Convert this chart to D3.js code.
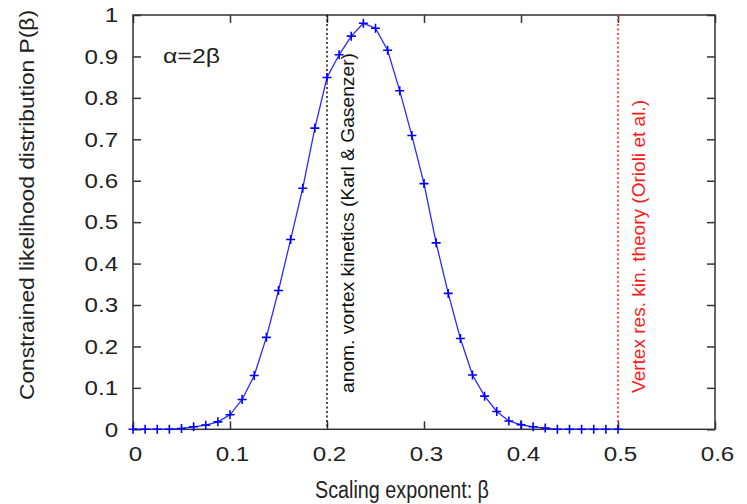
<!DOCTYPE html>
<html>
<head>
<meta charset="utf-8">
<script src="https://cdn.jsdelivr.net/npm/d3@7"></script>
<style>
  body { margin: 0; background: #fff; }
  text { font-family: "Liberation Sans", Arial, sans-serif; fill: #222; }
</style>
</head>
<body>
<div id="root"></div>
<script>
// scaling exponent beta (grid of the computation)
const beta = [0, 0.0125, 0.025, 0.0375, 0.05, 0.0625, 0.075, 0.0875, 0.1, 0.1125,
              0.125, 0.1375, 0.15, 0.1625, 0.175, 0.1875, 0.2, 0.2125, 0.225, 0.2375,
              0.25, 0.2625, 0.275, 0.2875, 0.3, 0.3125, 0.325, 0.3375, 0.35, 0.3625,
              0.375, 0.3875, 0.4, 0.4125, 0.425, 0.4375, 0.45, 0.4625, 0.475, 0.4875, 0.5];
// constrained likelihood P(beta)
const prob = [0, 0, 0, 0, 0.002, 0.006, 0.01, 0.018, 0.035, 0.072,
              0.13, 0.222, 0.335, 0.458, 0.582, 0.727, 0.849, 0.904, 0.949, 0.98,
              0.968, 0.915, 0.817, 0.709, 0.593, 0.45, 0.328, 0.219, 0.131, 0.08,
              0.043, 0.02, 0.011, 0.006, 0.003, 0, 0, 0, 0, 0, 0];
const xTicks = [0, 0.1, 0.2, 0.3, 0.4, 0.5, 0.6];
const yTicks = [0, 0.1, 0.2, 0.3, 0.4, 0.5, 0.6, 0.7, 0.8, 0.9, 1];
const refLines = [
  {beta: 0.2, label: "anom. vortex kinetics (Karl & Gasenzer)", color: "#111", len: 340, tx: 354},
  {beta: 0.5, label: "Vertex res. kin. theory (Orioli et al.)", color: "#ff1a1a", len: 293, tx: 645}
];

const width = 747, height = 504;
const plotL = 133, plotR = 715, plotT = 15, plotB = 429.3;

const x = d3.scaleLinear().domain([0, 0.6]).range([plotL, plotR]);
const y = d3.scaleLinear().domain([0, 1]).range([plotB, plotT]);

const svg = d3.select("#root")
  .append("svg")
    .attr("width", width)
    .attr("height", height);

// axes with inward ticks on all four sides
const noDomain = g => g.select(".domain").remove();

svg.append("g")
    .attr("transform", `translate(0, ${plotB})`)
    .call(d3.axisBottom(x).tickValues(xTicks).tickSize(-8).tickPadding(17).tickFormat(d => d))
    .call(noDomain)
    .call(g => g.selectAll("text").style("font-size", "21px").attr("transform", "translate(2,0) scale(1.15,1)"));

svg.append("g")
    .attr("transform", `translate(0, ${plotT})`)
    .call(d3.axisTop(x).tickValues(xTicks).tickSize(-8).tickFormat(""))
    .call(noDomain);

svg.append("g")
    .attr("transform", `translate(${plotL}, 0)`)
    .call(d3.axisLeft(y).tickValues(yTicks).tickSize(-8).tickPadding(13).tickFormat(d => d))
    .call(noDomain)
    .call(g => g.selectAll("text").style("font-size", "21px").attr("transform", "scale(1.15,1)"));

svg.append("g")
    .attr("transform", `translate(${plotR}, 0)`)
    .call(d3.axisRight(y).tickValues(yTicks).tickSize(-8).tickFormat(""))
    .call(noDomain);

svg.selectAll(".tick line").attr("stroke", "#333").attr("stroke-width", 1.5);
svg.selectAll(".tick text").attr("fill", "#222");

svg.append("rect")
    .attr("x", plotL)
    .attr("y", plotT)
    .attr("width", plotR - plotL)
    .attr("height", plotB - plotT)
    .attr("fill", "none")
    .attr("stroke", "#333")
    .attr("stroke-width", 1.5);

// reference lines + labels
const refs = svg.append("g").selectAll("g").data(refLines).join("g");
refs.append("line")
    .attr("x1", d => x(d.beta)).attr("x2", d => x(d.beta))
    .attr("y1", plotT).attr("y2", plotB)
    .attr("stroke", d => d.color)
    .attr("stroke-width", 1.5)
    .attr("stroke-dasharray", "2,2.5");
refs.append("text")
    .attr("transform", d => `translate(${d.tx}, 393) rotate(-90)`)
    .attr("textLength", d => d.len)
    .attr("lengthAdjust", "spacingAndGlyphs")
    .style("font-size", "19px")
    .style("fill", d => d.color)
    .text(d => d.label);

// the distribution
const pts = beta.map((b, i) => ({b, p: prob[i]}));

svg.append("path")
    .datum(pts)
    .attr("fill", "none")
    .attr("stroke", "#2a2aff")
    .attr("stroke-width", 1.3)
    .attr("d", d3.line().x(d => x(d.b)).y(d => y(d.p)));

svg.append("g")
  .selectAll("path")
    .data(pts)
    .join("path")
      .attr("transform", d => `translate(${x(d.b)}, ${y(d.p)})`)
      .attr("d", "M-4.5,0H4.5M0,-4.5V4.5")
      .attr("stroke", "#0000ff")
      .attr("stroke-width", 1.6);

// labels
svg.append("text")
    .attr("x", 163).attr("y", 63)
    .attr("textLength", 57)
    .attr("lengthAdjust", "spacingAndGlyphs")
    .style("font-size", "21px")
    .text("α=2β");

svg.append("text")
    .attr("x", 402).attr("y", 498)
    .attr("text-anchor", "middle")
    .attr("textLength", 174)
    .attr("lengthAdjust", "spacingAndGlyphs")
    .style("font-size", "23px")
    .text("Scaling exponent: β");

svg.append("text")
    .attr("transform", "translate(34, 205) rotate(-90)")
    .attr("text-anchor", "middle")
    .attr("textLength", 390)
    .attr("lengthAdjust", "spacingAndGlyphs")
    .style("font-size", "21px")
    .text("Constrained likelihood distribution P(β)");
</script>
</body>
</html>
